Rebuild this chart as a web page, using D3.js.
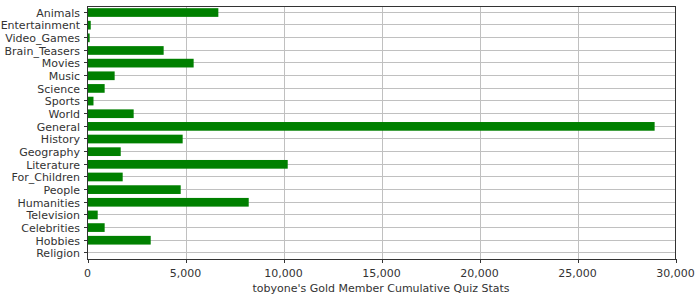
<!DOCTYPE html>
<html>
<head>
<meta charset="utf-8">
<script src="https://cdn.jsdelivr.net/npm/d3@7"></script>
<style>
  body { margin: 0; background: #fff; }
  svg text { font-family: "DejaVu Sans", sans-serif; font-size: 11px; fill: #333; }
</style>
</head>
<body>
<svg width="700" height="300"></svg>
<script>
const categories = ["Animals", "Entertainment", "Video_Games", "Brain_Teasers", "Movies", "Music",
  "Science", "Sports", "World", "General", "History", "Geography", "Literature", "For_Children",
  "People", "Humanities", "Television", "Celebrities", "Hobbies", "Religion"];
const scores = [6650, 140, 85, 3860, 5390, 1360, 850, 280, 2330, 28910, 4830, 1670, 10190, 1770,
  4730, 8200, 495, 850, 3200, 0];
const xTicks = [0, 5000, 10000, 15000, 20000, 25000, 30000];
const xLabel = "tobyone's Gold Member Cumulative Quiz Stats";

let svg = d3.select("svg");
let plotL = 87, plotR = 675, plotT = 6, plotB = 259;

let x = d3.scaleLinear().domain([0, 30000]).range([plotL + 0.5, plotR + 0.5]);
let y = d3.scaleBand().domain(categories).range([plotT, plotB]).paddingInner(0.31).paddingOuter(0.155);

let data = categories.map((c, i) => ({ name: c, value: scores[i] }));
let mid = d => Math.floor(y(d) + y.bandwidth() / 2) + 0.5;

// grid
svg.append("g").selectAll("line").data(xTicks.slice(1, -1)).join("line")
  .attr("x1", d => Math.round(x(d)) + 0.5).attr("x2", d => Math.round(x(d)) + 0.5)
  .attr("y1", plotT).attr("y2", plotB)
  .attr("stroke", "#c0c0c0").attr("stroke-width", 1);

svg.append("g").selectAll("line").data(categories).join("line")
  .attr("x1", plotL).attr("x2", plotR)
  .attr("y1", mid).attr("y2", mid)
  .attr("stroke", "#c0c0c0").attr("stroke-width", 1);

// bars
svg.append("g").selectAll("rect").data(data).join("rect")
  .attr("x", x(0) + 0.5)
  .attr("y", d => y(d.name) + (y.bandwidth() - 8.7) / 2 + 0.2)
  .attr("width", d => Math.max(0, x(d.value) - x(0)))
  .attr("height", 8.7)
  .attr("fill", "#008000");

// frame
svg.append("rect")
  .attr("x", plotL + 0.5).attr("y", plotT + 0.5)
  .attr("width", plotR - plotL).attr("height", plotB - plotT)
  .attr("fill", "none").attr("stroke", "#333");

// y axis
let ya = svg.append("g");
ya.selectAll("line").data(categories).join("line")
  .attr("x1", plotL - 3).attr("x2", plotL)
  .attr("y1", mid).attr("y2", mid)
  .attr("stroke", "#333");
ya.selectAll("text").data(categories).join("text")
  .attr("x", plotL - 7).attr("y", d => mid(d) + 4)
  .attr("text-anchor", "end")
  .text(d => d);

// x axis
let xa = svg.append("g");
xa.selectAll("line").data(xTicks).join("line")
  .attr("x1", d => Math.round(x(d)) + 0.5).attr("x2", d => Math.round(x(d)) + 0.5)
  .attr("y1", plotB).attr("y2", plotB + 4)
  .attr("stroke", "#333");
xa.selectAll("text").data(xTicks).join("text")
  .attr("x", d => x(d)).attr("y", 277)
  .attr("text-anchor", "middle")
  .text(d3.format(","));

svg.append("text")
  .attr("x", (plotL + plotR) / 2).attr("y", 292)
  .attr("text-anchor", "middle")
  .text(xLabel);
</script>
</body>
</html>
